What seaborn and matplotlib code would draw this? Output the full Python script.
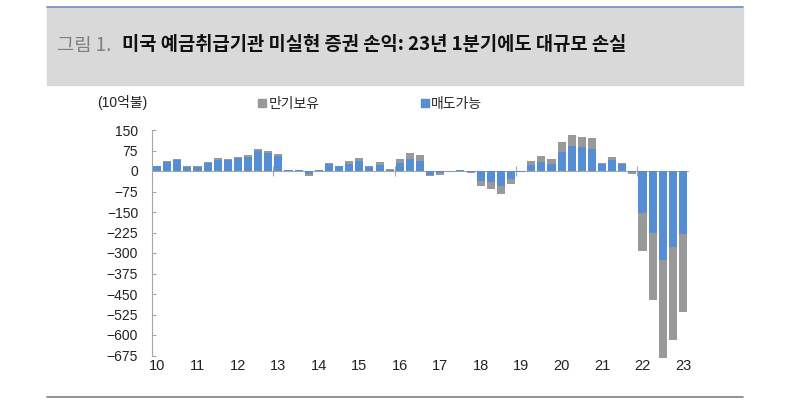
import matplotlib
matplotlib.use("Agg")
import matplotlib.pyplot as plt
import matplotlib.transforms as mtransforms
from matplotlib.patches import Rectangle, Patch
from matplotlib.lines import Line2D
import seaborn as sns

# quarterly, 2010Q1 ~ 2023Q1 (10억불)
quarters = [f"{y}Q{q}" for y in range(2010, 2023) for q in range(1, 5)] + ["2023Q1"]
afs = [17, 34, 39, 16, 16, 31, 42, 40, 46, 51, 72, 66,
       56, 3, 3, -10, 4, 26, 19, 26, 37, 15, 21, 3,
       28, 43, 38, -15, -7, -1, 2, -4, -35, -40, -54, -29,
       -2, 21, 33, 26, 69, 91, 87, 82, 27, 40, 27, -2,
       -153, -226, -324, -279, -230]          # 매도가능
htm = [2, 3, 6, 1, 1, 3, 4, 4, 5, 6, 7, 6,
       5, 2, 2, -8, 1, 2, 1, 9, 12, 2, 12, 6,
       16, 23, 21, -5, -6, -1, 2, -5, -21, -26, -30, -18,
       -2, 16, 21, 17, 36, 39, 37, 37, 1, 10, 2, -9,
       -140, -245, -360, -341, -287]          # 만기보유
total = [a + h for a, h in zip(afs, htm)]
year_labels = [str(y)[2:] for y in range(2010, 2024)]
yticks = list(range(150, -676, -75))

blue = "#558ed5"
gray = "#999999"
axis_gray = "#a6a6a6"

sns.set_style("white")
plt.rcParams['font.family'] = ['Liberation Sans', 'Noto Sans CJK KR']

fig = plt.figure(figsize=(8.01, 4.0), dpi=100)
ax = fig.add_axes([152 / 801, 1 - 355.5 / 400, 536 / 801, 225.5 / 400])

# stacked: total in gray, then the AFS part in blue on top of it
sns.barplot(x=quarters, y=total, order=quarters, color=gray, saturation=1,
            width=0.8, ax=ax, clip_on=False, linewidth=0)
sns.barplot(x=quarters, y=afs, order=quarters, color=blue, saturation=1,
            width=0.8, ax=ax, clip_on=False, linewidth=0)

ax.set_xlim(-0.5, len(quarters) - 0.5)
ax.set_ylim(-675, 150)
ax.set_yticks(yticks)
ax.set_xlabel("")
ax.set_ylabel("")

for s in ["top", "right"]:
    ax.spines[s].set_visible(False)
ax.spines["left"].set_color(axis_gray)
ax.spines["bottom"].set_color(axis_gray)
ax.spines["bottom"].set_position(("data", 0))
ax.spines["bottom"].set_zorder(0.5)

ax.tick_params(axis="y", direction="in", length=3, color=axis_gray,
               labelsize=10, labelcolor="#222222", pad=10, left=True)
ax.set_xticks([i - 0.5 for i in range(12, len(quarters), 12)])
ax.tick_params(axis="x", direction="inout", length=7, color=axis_gray,
               labelbottom=False, bottom=True)

trans = mtransforms.blended_transform_factory(ax.transData, ax.transAxes)
for k, lab in enumerate(year_labels):
    ax.text(k * 4, -0.045, lab, transform=trans, ha="center", va="center",
            fontsize=10.5, color="#222222")

ax.text(-0.056, 1.12, "(10억불)", transform=ax.transAxes, ha="center",
        va="center", fontsize=10, color="#222222")

handles = [Patch(color=gray, label="만기보유"), Patch(color=blue, label="매도가능")]
ax.legend(handles=handles, ncol=2, frameon=False, loc="center left",
          bbox_to_anchor=(0.198, 1.115), fontsize=10, handlelength=0.55,
          handleheight=0.55, handletextpad=0.2, columnspacing=7.3,
          borderaxespad=0, borderpad=0)

# header box
fig.patches.append(Rectangle((47 / 801, 1 - 85 / 400), 696 / 801, 78 / 400,
                             transform=fig.transFigure, color="#d9d9d9", zorder=0))
fig.lines.append(Line2D([47 / 801, 743 / 801], [1 - 6.5 / 400] * 2,
                        transform=fig.transFigure, color="#6d8cc0", lw=1.2))
fig.lines.append(Line2D([47 / 801, 743 / 801], [1 - 396.5 / 400] * 2,
                        transform=fig.transFigure, color="#808080", lw=1.2))
fig.text(57 / 801, 1 - 45 / 400, "그림 1.", fontsize=13.5, color="#7f7f7f",
         va="center", family="Noto Sans CJK KR")
fig.text(122 / 801, 1 - 45 / 400, "미국 예금취급기관 미실현 증권 손익: 23년 1분기에도 대규모 손실",
         fontsize=13.5, color="#111111", va="center", fontweight="bold",
         family="Noto Sans CJK KR")

fig.savefig("out.png", dpi=100)
